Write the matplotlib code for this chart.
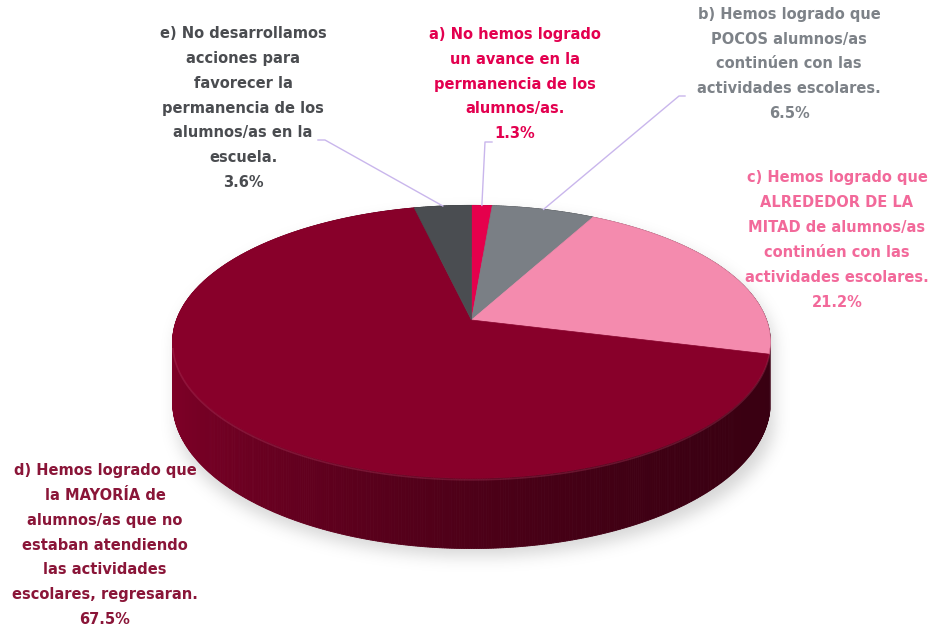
import numpy as np
import matplotlib
matplotlib.use("Agg")
import matplotlib.pyplot as plt
from matplotlib.path import Path
from matplotlib.colors import to_rgb

# porcentajes por respuesta (en el orden de las rebanadas, sentido horario desde arriba)
claves = ["a", "b", "c", "d", "e"]
valores = [1.3, 6.5, 21.2, 67.5, 3.6]
etiquetas = [
    "a) No hemos logrado\nun avance en la\npermanencia de los\nalumnos/as.",
    "b) Hemos logrado que\nPOCOS alumnos/as\ncontinúen con las\nactividades escolares.",
    "c) Hemos logrado que\nALREDEDOR DE LA\nMITAD de alumnos/as\ncontinúen con las\nactividades escolares.",
    "d) Hemos logrado que\nla MAYORÍA de\nalumnos/as que no\nestaban atendiendo\nlas actividades\nescolares, regresaran.",
    "e) No desarrollamos\nacciones para\nfavorecer la\npermanencia de los\nalumnos/as en la\nescuela.",
]
colores = ["#E5004C", "#7A7F85", "#F48BAE", "#88002A", "#4A4D51"]
colores_texto = ["#E3004F", "#7D8288", "#F2699A", "#8A1538", "#4A4C50"]

# geometria del pastel en perspectiva (pixeles)
W, H = 947, 633
cx, cy = 471.5, 320.0
A, B, k = 295.0, 133.0, 0.16
D = 59.0


def proyectar(t):
    u, v = np.sin(t), np.cos(t)
    s = 1 + k * v
    return cx + A * u / s, cy - B * v / s, D / s


fig = plt.figure(figsize=(W / 100, H / 100), dpi=100)
ax = fig.add_axes([0, 0, 1, 1])
ax.set_xlim(0, W)
ax.set_ylim(H, 0)
ax.axis("off")

total = sum(valores)
limites = np.concatenate([[0], np.cumsum(valores)]) / total * 2 * np.pi

# sombra difusa bajo el cilindro
tt = np.linspace(0, 2 * np.pi, 400)
ex, ey, _ = proyectar(tt)
yy, xx = np.mgrid[0:H, 0:W]
tapa = Path(np.column_stack([ex, ey])).contains_points(
    np.column_stack([xx.ravel() + 0.5, yy.ravel() + 0.5])).reshape(H, W)
silueta = tapa.copy()
for d in range(1, int(D / (1 - k)) + 1):
    silueta[d:] |= tapa[:-d]
sombra = np.zeros_like(silueta, dtype=float)
sombra[8:, 4:] = silueta[:-8, :-4]
r = 7
for _ in range(3):
    c = np.cumsum(np.pad(sombra, ((0, 0), (r + 1, r))), axis=1)
    sombra = (c[:, 2 * r + 1:] - c[:, :-2 * r - 1]) / (2 * r + 1)
    c = np.cumsum(np.pad(sombra, ((r + 1, r), (0, 0))), axis=0)
    sombra = (c[2 * r + 1:, :] - c[:-2 * r - 1, :]) / (2 * r + 1)
img = np.zeros((H, W, 4))
img[..., :3] = 0.55
img[..., 3] = sombra * 0.35
ax.imshow(img, extent=(0, W, H, 0), zorder=0, interpolation="bilinear")

# pared lateral: segmentos ordenados de atras hacia adelante
n = 900
ts = np.linspace(0, 2 * np.pi, n + 1)
segs = []
for i in range(n):
    t0, t1 = ts[i], ts[i + 1]
    tm = 0.5 * (t0 + t1)
    idx = np.searchsorted(limites, tm) - 1
    x0, y0, d0 = proyectar(t0)
    x1, y1, d1 = proyectar(t1)
    u = np.sin(tm)
    f = 0.57 - 0.26 * u + 0.11 * u ** 2
    col = np.clip(np.array(to_rgb(colores[idx])) * f, 0, 1)
    segs.append((np.cos(tm), [(x0, y0), (x1, y1), (x1, y1 + d1), (x0, y0 + d0)], col))
for _, pts, col in sorted(segs, key=lambda s: -s[0]):
    ax.add_patch(plt.Polygon(pts, closed=True, facecolor=col, edgecolor=col, lw=0.6, zorder=1))

# cara superior
for i in range(len(valores)):
    ang = np.linspace(limites[i], limites[i + 1], 200)
    px, py, _ = proyectar(ang)
    pts = np.column_stack([np.r_[cx, px], np.r_[cy, py]])
    ax.add_patch(plt.Polygon(pts, closed=True, facecolor=colores[i], edgecolor=colores[i],
                             lw=0.5, zorder=2))

# brillo del borde frontal
tf = np.linspace(np.pi / 2 + 0.2, 3 * np.pi / 2 - 0.2, 300)
bx, by, _ = proyectar(tf)
ax.plot(bx, by + 1.5, color="#C0406A", lw=1.2, alpha=0.3, zorder=3)

# etiquetas con su porcentaje
pos_texto = [(515, 84), (789, 64), (837, 240), (105, 545), (243, 108)]
for i in range(len(valores)):
    ax.text(pos_texto[i][0], pos_texto[i][1], f"{etiquetas[i]}\n{valores[i]}%",
            ha="center", va="center", multialignment="center", fontsize=10.5,
            fontweight="bold", color=colores_texto[i], linespacing=1.82, zorder=4)

# lineas guia de las rebanadas pequenas
guias = {0: [(492, 142), (485, 142)], 1: [(685, 96), (679, 96)], 4: [(318, 140), (325, 140)]}
for i, pts in guias.items():
    mx, my, _ = proyectar(0.5 * (limites[i] + limites[i + 1]))
    xs = [p[0] for p in pts] + [mx]
    ys = [p[1] for p in pts] + [my]
    ax.plot(xs, ys, color="#C9B6EC", lw=1.0, zorder=3)

fig.savefig("out.png", dpi=100)
